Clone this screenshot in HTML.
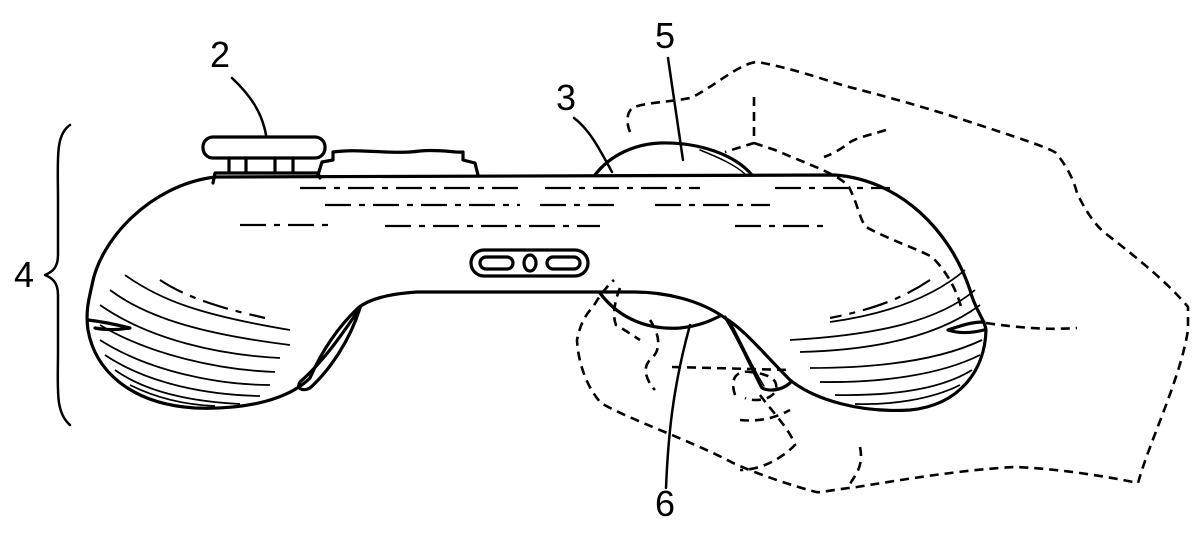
<!DOCTYPE html>
<html><head><meta charset="utf-8"><style>
html,body{margin:0;padding:0;background:#fff;}
svg{display:block}
text{font-family:"Liberation Sans",sans-serif;font-size:36px;fill:#000}
</style></head><body>
<svg width="1200" height="536" viewBox="0 0 1200 536" xmlns="http://www.w3.org/2000/svg">
<g fill="none" stroke="#000" stroke-width="3.2" stroke-linecap="round" stroke-linejoin="round">
<path d="M70,125 C55,135 58,160 58,200 L58,255 C58,268 52,272 45,275 C52,278 58,282 58,295 L58,350 C58,390 55,412 70,425" stroke-width="2.5"/>
<path d="M232,78 C250,95 262,112 266,135" stroke-width="2.5"/>
<path d="M574,118 C590,130 600,150 612,172" stroke-width="2.5"/>
<path d="M668,58 L683,160" stroke-width="2.5"/>
<path d="M666,488 C668,440 672,390 690,325" stroke-width="2.5"/>
<rect x="203" y="137" width="122" height="21" rx="10"/>
<path d="M229,158 L229,173 M246,158 L246,173 M275,158 L275,173 M293,158 L293,173"/>
<path d="M213,183 L215,173 L318,173 L320,178"/>
<path d="M318,175 L322,162 L333,160 L333,152 C360,148 390,155 420,151 C440,149 455,153 463,152 L463,160 L475,163 L478,175"/>
<path d="M595,175 C610,155 635,144 660,143 C700,142 735,155 752,175"/>
<path d="M700,150 C720,158 735,165 745,174" stroke-width="1.5"/>
<path d="M215,177 L835,175 C900,180 950,230 970,290 C975,310 985,320 986,330 C985,370 960,405 910,410 C860,413 815,400 790,380 C765,355 745,330 725,318 C700,300 665,292 634,292 L417,292 C385,294 368,300 358,308 C335,330 320,355 310,378 C290,398 250,410 195,408 C130,404 95,370 88,330 C85,310 90,295 92,285 C100,240 150,185 215,177 Z"/>
<path d="M360,308 C345,330 325,360 300,382 C296,388 302,392 310,388 C330,370 350,340 360,308"/>
<path d="M725,317 C740,340 752,370 762,388 C770,392 782,390 790,383"/>
<path d="M732,325 C745,350 755,372 764,386" stroke-width="1.5"/>
<path d="M600,293 C620,320 650,330 680,328 C700,326 712,320 720,316"/>
<path d="M88,320 C105,322 118,325 130,328 C118,330 105,330 95,328"/>
<path d="M984,322 C970,322 960,326 948,330 C960,334 972,333 984,330"/>
<rect x="471" y="250" width="117" height="26" rx="13"/>
<rect x="480" y="257" width="33" height="12" rx="6"/>
<rect x="547" y="257" width="33" height="12" rx="6"/>
<ellipse cx="530" cy="263" rx="6" ry="8"/>
</g>
<g fill="none" stroke="#000" stroke-width="2.2" stroke-dasharray="26 8 6 8">
<path d="M300,188 L520,188 M545,188 L700,188 M775,188 L890,188"/>
<path d="M325,205 L520,205 M540,205 L620,205 M655,205 L770,205"/>
<path d="M385,226 L600,226"/>
<path d="M240,225 L330,225 M735,226 L830,226"/>
<path d="M160,280 C190,300 230,310 265,318"/>
<path d="M930,280 C900,300 870,310 830,318"/>
</g>
<g fill="none" stroke="#000" stroke-width="1.8">
<path d="M125,275 C160,300 200,315 290,330"/>
<path d="M110,290 C150,320 210,335 290,345"/>
<path d="M100,305 C150,340 220,355 280,358"/>
<path d="M100,325 C150,355 220,370 275,372"/>
<path d="M100,340 C150,372 220,385 270,385"/>
<path d="M105,355 C150,385 210,395 260,396"/>
<path d="M115,370 C150,395 200,402 240,404"/>
<path d="M130,385 C160,400 190,405 215,406"/>
<path d="M965,270 C930,300 880,315 830,322"/>
<path d="M975,290 C940,320 880,335 790,340"/>
<path d="M980,305 C940,335 880,350 800,352"/>
<path d="M982,340 C940,360 880,368 810,368"/>
<path d="M980,355 C940,375 880,383 820,382"/>
<path d="M972,370 C940,390 890,396 835,395"/>
<path d="M960,385 C930,400 890,405 855,404"/>
</g>
<g fill="none" stroke="#000" stroke-width="2.6" stroke-dasharray="9 6">
<path d="M630,132 C625,120 628,110 634,107 C650,102 670,102 690,98 C710,90 740,62 758,62 C800,70 830,82 849,87 C900,100 940,112 973,123 C1010,135 1050,148 1056,153 C1070,170 1075,185 1077,193 C1085,210 1095,225 1105,233 C1140,260 1170,285 1188,307 L1188,330 C1180,380 1150,440 1138,483 C1100,475 1050,468 1014,467 C960,470 900,480 857,487 C830,490 820,493 816,492 C790,485 760,475 733,463 C690,440 630,420 601,403 C585,385 578,360 577,340 C580,325 585,315 593,307 C600,295 608,285 614,280"/>
<path d="M754,97 L754,143 L725,152 M754,143 L775,150 C810,165 840,175 849,187 C858,205 860,220 866,227 C890,240 920,250 932,257 C950,275 958,295 961,307"/>
<path d="M886,130 C870,135 855,138 849,143 C840,150 830,155 824,157"/>
<path d="M986,323 C1020,328 1050,330 1077,328"/>
<path d="M672,367 L791,370"/>
<path d="M620,288 C615,300 612,315 616,325 C625,330 632,335 640,340"/>
<path d="M650,320 C660,335 662,350 650,360 C640,370 650,385 655,390"/>
<path d="M735,395 C730,380 735,370 750,372 C770,374 780,380 775,392 C770,400 755,402 745,398"/>
<path d="M740,420 C760,422 775,418 790,410 M860,447 C865,470 850,480 850,485"/>
<path d="M760,395 C775,415 790,430 795,445 C780,460 760,470 740,470"/>
</g>
<text x="210" y="67">2</text>
<text x="556" y="110">3</text>
<text x="655" y="48">5</text>
<text x="14" y="287">4</text>
<text x="655" y="516">6</text>
</svg>
</body></html>
